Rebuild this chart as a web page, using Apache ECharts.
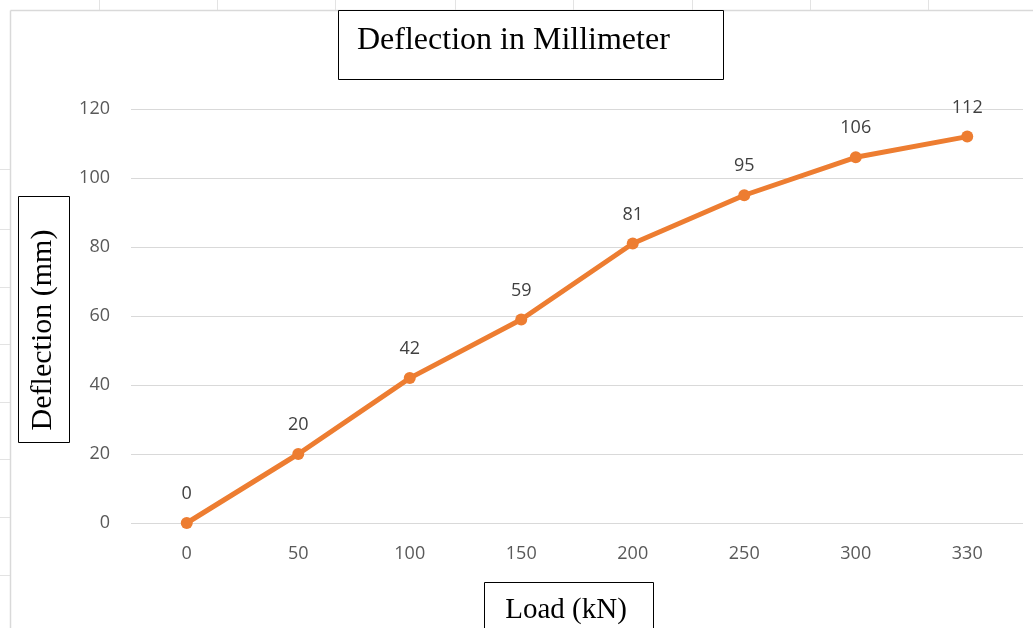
<!DOCTYPE html>
<html>
<head>
<meta charset="utf-8">
<script src="https://cdn.jsdelivr.net/npm/echarts@6/dist/echarts.min.js"></script>
<style>html,body{margin:0;padding:0;background:#fff}#c{width:1033px;height:628px}</style>
</head>
<body>
<div id="c"></div>
<script>
var categories = ['0', '50', '100', '150', '200', '250', '300', '330'];
var deflection = [0, 20, 42, 59, 81, 95, 106, 112];
var titleText = 'Deflection in Millimeter';
var yName = 'Deflection (mm)';
var xName = 'Load (kN)';

var chart = echarts.init(document.getElementById('c'), null, {renderer: 'canvas'});

var sheetLines = [];
[99, 217, 335, 455, 573, 692, 810, 928].forEach(function (x) {
  sheetLines.push({type: 'line', shape: {x1: x + 0.5, y1: 0, x2: x + 0.5, y2: 10}, style: {stroke: '#e3e3e3', lineWidth: 1}, silent: true});
});
[169, 229, 287, 344, 402, 459, 517, 575].forEach(function (y) {
  sheetLines.push({type: 'line', shape: {x1: 0, y1: y + 0.5, x2: 10, y2: y + 0.5}, style: {stroke: '#e3e3e3', lineWidth: 1}, silent: true});
});

var option = {
  backgroundColor: '#ffffff',
  animation: false,
  grid: {left: 131, right: 10, top: 109, bottom: 105},
  xAxis: {
    type: 'category',
    data: categories,
    boundaryGap: true,
    axisLine: {show: false},
    axisTick: {show: false},
    axisLabel: {color: '#595959', fontSize: 18, fontFamily: 'Open Sans', margin: 22}
  },
  yAxis: {
    type: 'value',
    min: 0, max: 120, interval: 20,
    axisLine: {show: false},
    axisTick: {show: false},
    axisLabel: {color: '#595959', fontSize: 18, fontFamily: 'Open Sans', margin: 21},
    splitLine: {lineStyle: {color: '#d9d9d9', width: 1}}
  },
  series: [{
    type: 'line',
    data: deflection,
    symbol: 'circle',
    symbolSize: 12,
    lineStyle: {color: '#ED7D31', width: 5},
    itemStyle: {color: '#ED7D31'},
    label: {show: true, position: 'top', distance: 14, color: '#404040', fontSize: 18, fontFamily: 'Open Sans'}
  }],
  graphic: sheetLines.concat([
    {type: 'line', shape: {x1: 10.5, y1: 10.5, x2: 1033, y2: 10.5}, style: {stroke: '#d9d9d9', lineWidth: 1.5}, silent: true},
    {type: 'line', shape: {x1: 10.5, y1: 10.5, x2: 10.5, y2: 628}, style: {stroke: '#d9d9d9', lineWidth: 1.5}, silent: true},
    {type: 'rect', shape: {x: 338.5, y: 10.5, width: 385, height: 69}, style: {fill: '#fff', stroke: '#000', lineWidth: 1}, z: 10},
    {type: 'text', x: 357, y: 41, style: {text: titleText, font: '32px "Liberation Serif"', fill: '#000', textVerticalAlign: 'middle', verticalAlign: 'middle'}, z: 11},
    {type: 'rect', shape: {x: 18.5, y: 196.5, width: 51, height: 246}, style: {fill: '#fff', stroke: '#000', lineWidth: 1}, z: 10},
    {type: 'text', x: 43, y: 330, rotation: Math.PI / 2, style: {text: yName, font: '30px "Liberation Serif"', fill: '#000', align: 'center', verticalAlign: 'middle', textAlign: 'center', textVerticalAlign: 'middle'}, z: 11},
    {type: 'rect', shape: {x: 484.5, y: 582.5, width: 169, height: 60}, style: {fill: '#fff', stroke: '#000', lineWidth: 1}, z: 10},
    {type: 'text', x: 566, y: 610, style: {text: xName, font: '29px "Liberation Serif"', fill: '#000', align: 'center', verticalAlign: 'middle', textAlign: 'center', textVerticalAlign: 'middle'}, z: 11}
  ])
};
chart.setOption(option);
</script>
</body>
</html>
